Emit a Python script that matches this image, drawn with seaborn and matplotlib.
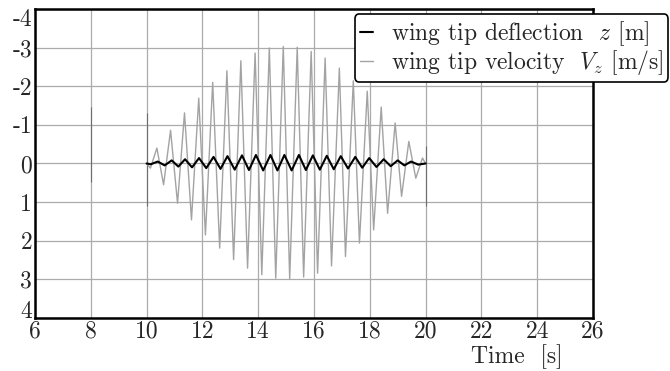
import matplotlib
matplotlib.use("Agg")
import matplotlib.pyplot as plt
import seaborn as sns
import numpy as np

# wing tip velocity, turning points
vel_t = [10.00, 10.14, 10.37, 10.61, 10.86, 11.11, 11.36, 11.61, 11.87, 12.11,
         12.37, 12.62, 12.88, 13.12, 13.38, 13.62, 13.89, 14.13, 14.40, 14.63,
         14.90, 15.13, 15.40, 15.63, 15.90, 16.13, 16.40, 16.63, 16.91, 17.13,
         17.41, 17.63, 17.91, 18.14, 18.41, 18.64, 18.91, 19.14, 19.40, 19.65,
         19.89, 20.00]
vel_v = [0.00, 0.12, -0.40, 0.55, -0.86, 1.03, -1.31, 1.46, -1.69, 1.85,
         -2.10, 2.19, -2.40, 2.49, -2.66, 2.71, -2.86, 2.88, -2.99, 2.97,
         -3.03, 2.99, -3.01, 2.94, -2.90, 2.84, -2.73, 2.65, -2.47, 2.41,
         -2.14, 2.06, -1.87, 1.72, -1.46, 1.29, -1.05, 0.85, -0.57, 0.38,
         -0.14, 0.00]

# wing tip deflection, turning points
defl_t = [10.00, 10.15, 10.40, 10.65, 10.90, 11.14, 11.38, 11.63, 11.88, 12.14,
          12.40, 12.65, 12.90, 13.16, 13.42, 13.67, 13.92, 14.18, 14.44, 14.69,
          14.94, 15.20, 15.46, 15.71, 15.96, 16.21, 16.46, 16.71, 16.96, 17.22,
          17.48, 17.73, 17.98, 18.24, 18.50, 18.75, 19.00, 19.24, 19.48, 19.74,
          20.00]
defl_v = [0.00, 0.02, -0.05, 0.05, -0.08, 0.08, -0.11, 0.10, -0.14, 0.12,
          -0.17, 0.14, -0.19, 0.16, -0.21, 0.17, -0.22, 0.18, -0.22, 0.18,
          -0.22, 0.18, -0.22, 0.17, -0.21, 0.16, -0.20, 0.15, -0.19, 0.13,
          -0.17, 0.11, -0.14, 0.09, -0.11, 0.07, -0.08, 0.05, -0.05, 0.03,
          0.00]

# short dark marks left on some grid lines
mark_t = [8, 10, 20]
mark_lo = [-1.47, -1.30, -0.45]
mark_hi = [0.47, 1.10, 1.10]

x_ticks = list(range(6, 27, 2))
y_ticks = list(range(-4, 5))

sns.set_style("white")
plt.rcParams["font.family"] = ["cmr10", "DejaVu Serif"]
plt.rcParams["mathtext.fontset"] = "cm"
plt.rcParams["axes.unicode_minus"] = False
plt.rcParams["axes.formatter.use_mathtext"] = True

fig = plt.figure(figsize=(6.7, 3.71), dpi=100)
ax = fig.add_axes([0.0522, 0.1429, 0.8328, 0.8329])

ax.grid(True, color="#ababab", linewidth=0.9)
ax.set_axisbelow(True)
ax.vlines(mark_t, mark_lo, mark_hi, color="#6e6e6e", linewidth=0.8, zorder=1)

sns.lineplot(x=vel_t, y=vel_v, ax=ax, color="#a3a3a3", linewidth=1.0,
             estimator=None, label="wing tip velocity  $V_z$ [m/s]", zorder=2)
sns.lineplot(x=defl_t, y=defl_v, ax=ax, color="black", linewidth=1.5,
             estimator=None, label="wing tip deflection  $z$ [m]", zorder=3)

ax.set_xlim(6, 26)
ax.set_ylim(4, -4)
ax.set_xticks(x_ticks)
ax.set_yticks(y_ticks)
ax.set_xticklabels([str(v) for v in x_ticks])
ax.set_yticklabels([str(v) for v in y_ticks])
ax.tick_params(length=0, labelsize=17, pad=2)

# end labels kept inside the frame, as in the original
ylabs = ax.get_yticklabels()
ylabs[0].set_va("top")
ylabs[-1].set_va("baseline")

for s in ax.spines.values():
    s.set_color("black")
    s.set_linewidth(1.8)

ax.set_xlabel("Time  [s]", fontsize=17, va="top")
ax.xaxis.set_label_coords(0.864, -0.085)
ax.set_ylabel("")

handles, labels = ax.get_legend_handles_labels()
leg = ax.legend(handles[::-1], labels[::-1], loc="upper left",
                bbox_to_anchor=(0.573, 0.984), borderaxespad=0,
                fontsize=17, handlelength=0.55, handletextpad=0.75,
                borderpad=0.22, labelspacing=0.0, fancybox=True,
                framealpha=1, edgecolor="black")
leg.get_frame().set_linewidth(1.2)

fig.savefig("out.png", dpi=100)
